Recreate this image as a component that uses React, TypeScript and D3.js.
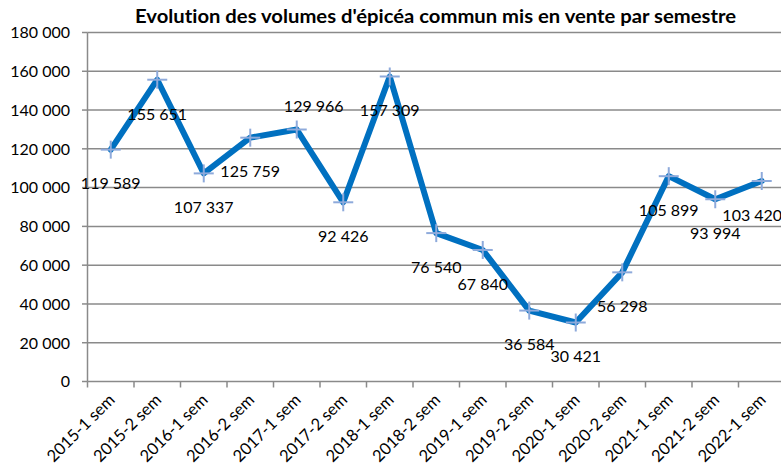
import React from "react";
import * as d3 from "d3";

const categories = [
  "2015-1 sem", "2015-2 sem", "2016-1 sem", "2016-2 sem", "2017-1 sem",
  "2017-2 sem", "2018-1 sem", "2018-2 sem", "2019-1 sem", "2019-2 sem",
  "2020-1 sem", "2020-2 sem", "2021-1 sem", "2021-2 sem", "2022-1 sem",
];
const volumes = [
  119589, 155651, 107337, 125759, 129966, 92426, 157309, 76540, 67840,
  36584, 30421, 56298, 105899, 93994, 103420,
];
const yTicks = [0, 20000, 40000, 60000, 80000, 100000, 120000, 140000, 160000, 180000];
const title = "Evolution des volumes d'épicéa commun mis en vente par semestre";

// label layout offsets (pixels) relative to each point
const labelOffsets: [number, number][] = [
  [0, 34], [0, 34], [0, 34], [0, 34], [17, -23.5], [0, 34], [0, 34], [0, 34],
  [0, 34], [0, 34], [0, 34], [0, 34], [0, 34], [0, 34], [-9.5, 34],
];

const W = 781;
const H = 472;
const FONT = "Lato, 'Open Sans', sans-serif";

const fmt = (v: number) => {
  const s = Math.round(v).toString();
  return s.replace(/\B(?=(\d{3})+(?!\d))/g, " ");
};

export default function App() {
  const x = d3.scaleBand<string>().domain(categories).range([87.5, 785]).padding(0);
  const y = d3.scaleLinear().domain([0, 180000]).range([381.5, 32.5]);
  const cx = (c: string) => (x(c) as number) + x.bandwidth() / 2;

  const line = d3
    .line<number>()
    .x((_, i) => cx(categories[i]))
    .y((d) => y(d));

  const boundaries = categories.map((c) => x(c) as number).concat([x.range()[1]]);
  const gridColor = "#8a8a8a";

  return (
    <svg
      width={W}
      height={H}
      style={{ position: "absolute", left: 0, top: 0, background: "#fff", fontVariantLigatures: "none" }}
      fontFamily={FONT}
    >
      <rect width={W} height={H} fill="#fff" />
      <text
        x={435.5}
        y={23}
        textAnchor="middle"
        fontSize={18}
        fontWeight="bold"
        textLength={601}
        lengthAdjust="spacingAndGlyphs"
        fill="#000"
        style={{ fontVariantLigatures: "none" }}
      >
        {title}
      </text>

      {/* gridlines and y axis ticks */}
      {yTicks.map((t) => (
        <g key={t}>
          {t > 0 && (
            <line x1={87.5} x2={W} y1={y(t)} y2={y(t)} stroke={gridColor} strokeWidth={1.5} />
          )}
          <line x1={82} x2={87.5} y1={y(t)} y2={y(t)} stroke={gridColor} strokeWidth={1.5} />
          <text x={70} y={y(t) + 5.8} textAnchor="end" fontSize={16} fill="#000">
            {fmt(t)}
          </text>
        </g>
      ))}

      {/* axes */}
      <line x1={87.5} x2={87.5} y1={y(180000)} y2={y(0)} stroke={gridColor} strokeWidth={1.5} />
      <line x1={87.5} x2={W} y1={y(0)} y2={y(0)} stroke={gridColor} strokeWidth={1.5} />
      {boundaries.map((b, i) => (
        <line key={i} x1={b} x2={b} y1={y(0)} y2={y(0) + 6} stroke={gridColor} strokeWidth={1.5} />
      ))}

      {/* x labels */}
      {categories.map((c) => {
        const px = cx(c) + 5;
        const py = 401;
        return (
          <text
            key={c}
            x={px}
            y={py}
            textAnchor="end"
            fontSize={16.5}
            fill="#000"
            transform={`rotate(-45 ${px} ${py})`}
          >
            {c}
          </text>
        );
      })}

      {/* series line */}
      <path
        d={line(volumes) || ""}
        fill="none"
        stroke="#0070C0"
        strokeWidth={6}
        strokeLinejoin="round"
        strokeLinecap="round"
      />

      {/* markers */}
      {volumes.map((v, i) => {
        const px = cx(categories[i]);
        const py = y(v);
        return (
          <g key={i} stroke="#8eaadb" strokeWidth={2}>
            <line x1={px - 10} x2={px + 10} y1={py} y2={py} />
            <line x1={px} x2={px} y1={py - 9} y2={py + 9} />
          </g>
        );
      })}

      {/* data labels */}
      {volumes.map((v, i) => {
        const px = cx(categories[i]) + labelOffsets[i][0];
        const py = y(v) + labelOffsets[i][1] + 5.8;
        return (
          <text key={i} x={px} y={py} textAnchor="middle" fontSize={16} fill="#000">
            {fmt(v)}
          </text>
        );
      })}
    </svg>
  );
}
